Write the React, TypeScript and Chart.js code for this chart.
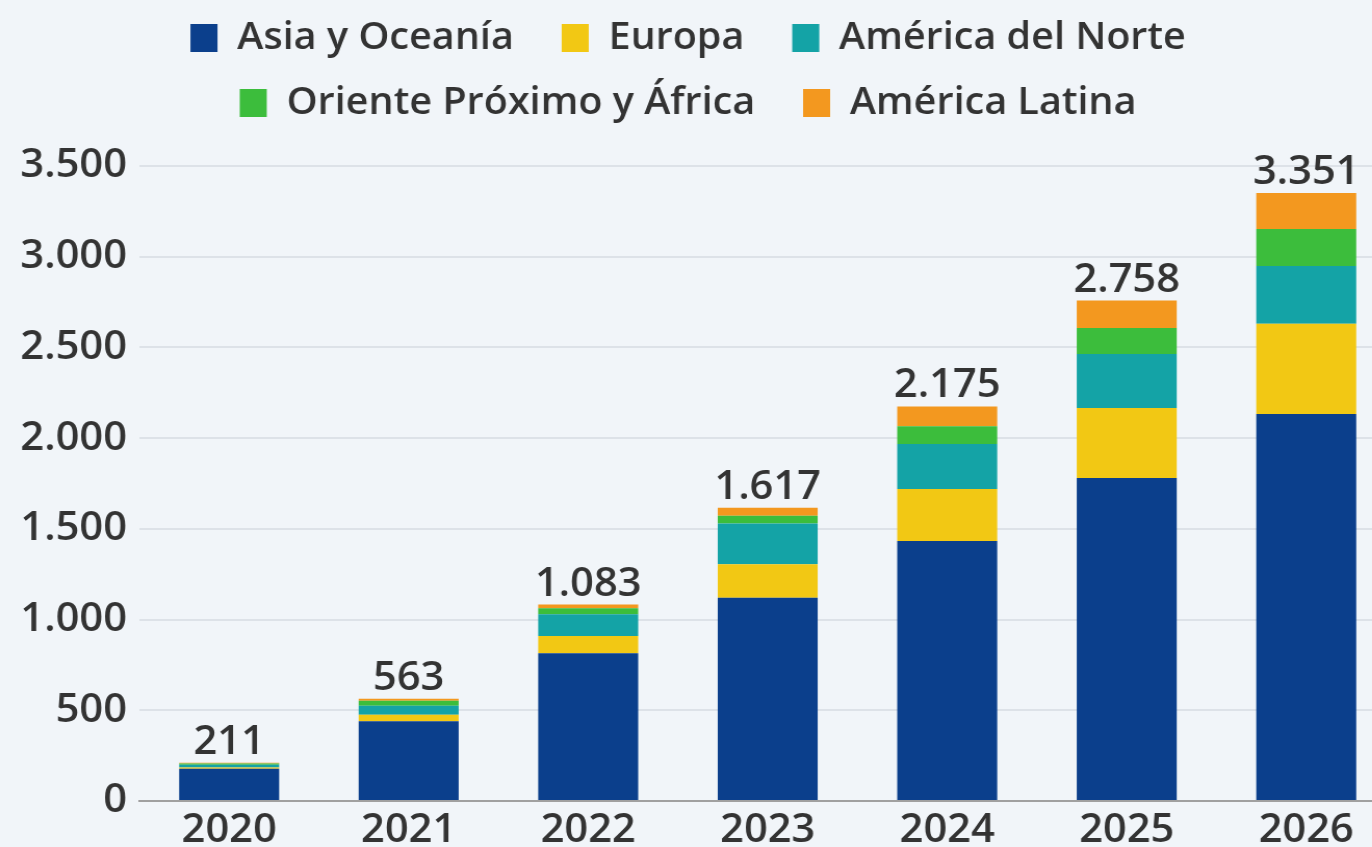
import React, { useEffect, useRef } from "react";
import { Chart, registerables } from "chart.js";

Chart.register(...registerables);

const years = ["2020", "2021", "2022", "2023", "2024", "2025", "2026"];
const asiaOceania = [178, 440, 815, 1120, 1433, 1781, 2133];
const europa = [6, 35, 95, 185, 287, 385, 497];
const americaNorte = [16, 50, 120, 225, 248, 298, 319];
const orienteAfrica = [7, 28, 33, 42, 97, 143, 204];
const americaLatina = [4, 10, 20, 45, 110, 151, 198];
const yTicks = [0, 500, 1000, 1500, 2000, 2500, 3000, 3500];

const seriesNames = [
  "Asia y Oceanía",
  "Europa",
  "América del Norte",
  "Oriente Próximo y África",
  "América Latina",
];
const seriesColors = ["#0b3f8c", "#f2c814", "#14a3a6", "#3cbd3c", "#f3981f"];

const fmt = (v: number) => v.toLocaleString("de-DE");

const FONT = "'Open Sans', 'Noto Sans', sans-serif";
const WEIGHT = "600";
const STRETCH = 1.04;
const DISPLAY_W = 1396;
const CANVAS_W = Math.round(DISPLAY_W / STRETCH);
const H = 847;
const LEGEND_H = 174;

const legendSpacer = {
  id: "legendSpacer",
  beforeLayout(chart: any) {
    const lg = chart.legend;
    if (lg && !lg._wrapped) {
      const orig = lg.fit.bind(lg);
      lg.fit = function () {
        orig();
        this.height = LEGEND_H;
      };
      lg._wrapped = true;
    }
  },
};

const totalsPlugin = {
  id: "totals",
  afterDatasetsDraw(chart: any) {
    const ctx = chart.ctx;
    const n = chart.data.datasets.length;
    const lastMeta = chart.getDatasetMeta(n - 1);
    ctx.save();
    ctx.font = `${WEIGHT} 40px ${FONT}`;
    ctx.fillStyle = "#333333";
    ctx.textAlign = "center";
    ctx.textBaseline = "alphabetic";
    chart.data.labels.forEach((_: any, i: number) => {
      let sum = 0;
      chart.data.datasets.forEach((ds: any) => (sum += ds.data[i]));
      const el = lastMeta.data[i];
      ctx.fillText(fmt(sum), el.x, el.y - 9);
    });
    ctx.restore();
  },
};

export default function App() {
  const ref = useRef<HTMLCanvasElement>(null);
  useEffect(() => {
    if (!ref.current) return;
    const data = [asiaOceania, europa, americaNorte, orienteAfrica, americaLatina];
    const chart = new Chart(ref.current, {
      type: "bar",
      data: {
        labels: years,
        datasets: data.map((d, i) => ({
          label: seriesNames[i],
          data: d,
          backgroundColor: seriesColors[i],
          borderWidth: 0,
          categoryPercentage: 1,
          barPercentage: 0.557,
        })),
      },
      options: {
        animation: false,
        responsive: false,
        maintainAspectRatio: false,
        devicePixelRatio: 1,
        layout: { padding: { top: -8, left: 0, right: 0, bottom: -6 } },
        plugins: {
          tooltip: { enabled: false },
          legend: {
            position: "top",
            labels: {
              font: { family: FONT, size: 38, weight: WEIGHT },
              color: "#333333",
              boxWidth: 26,
              boxHeight: 28,
              padding: 27,
              generateLabels: (chart: any) =>
                Chart.defaults.plugins.legend.labels
                  .generateLabels(chart)
                  .map((l: any) => ({ ...l, text: l.text + "\u2002" })),
            },
          },
        },
        scales: {
          x: {
            stacked: true,
            grid: { display: false },
            border: { color: "#a0a0a0", width: 2 },
            ticks: {
              font: { family: FONT, size: 40, weight: WEIGHT, lineHeight: 1.0 },
              color: "#333333",
              padding: 2,
            },
          },
          y: {
            stacked: true,
            min: 0,
            max: 3500,
            afterBuildTicks: (scale: any) => {
              scale.ticks = yTicks.map((v) => ({ value: v }));
            },
            afterFit: (scale: any) => {
              scale.width = Math.round(139 / STRETCH);
            },
            grid: { color: "#dde2e8", lineWidth: 2, drawTicks: false },
            border: { display: false },
            ticks: {
              font: { family: FONT, size: 40, weight: WEIGHT },
              color: "#333333",
              padding: 12,
              callback: (v: any) => fmt(Number(v)),
            },
          },
        },
      },
      plugins: [legendSpacer, totalsPlugin],
    });
    return () => chart.destroy();
  }, []);
  return (
    <div
      style={{
        position: "fixed",
        left: 0,
        top: 0,
        width: 1372,
        height: H,
        overflow: "hidden",
        background: "#f1f5f9",
      }}
    >
      <canvas
        ref={ref}
        width={CANVAS_W}
        height={H}
        style={{ width: DISPLAY_W, height: H, display: "block" }}
      />
    </div>
  );
}
